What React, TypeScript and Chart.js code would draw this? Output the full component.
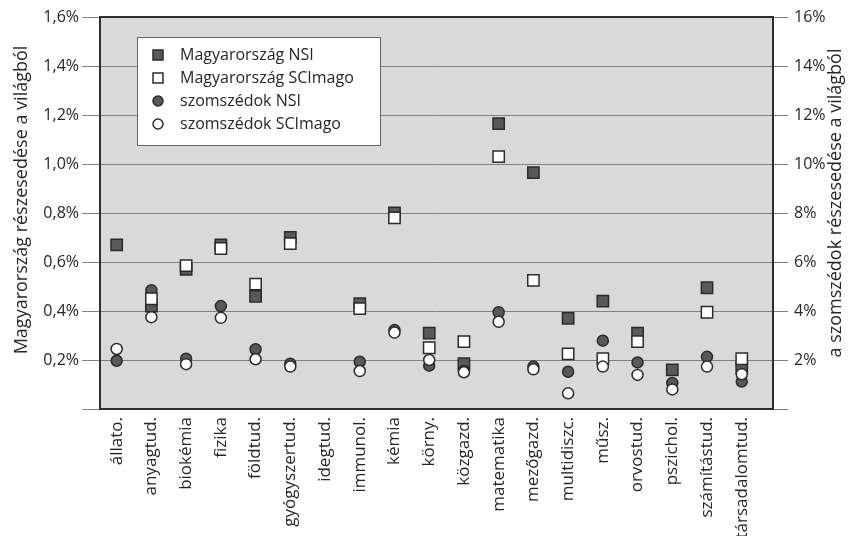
import React, { useEffect, useRef } from 'react';
import { Chart, registerables } from 'chart.js';
Chart.register(...registerables);

const categories = ['állato.', 'anyagtud.', 'biokémia', 'fizika', 'földtud.', 'gyógyszertud.', 'idegtud.', 'immunol.', 'kémia', 'körny.', 'közgazd.', 'matematika', 'mezőgazd.', 'multidiszc.', 'műsz.', 'orvostud.', 'pszichol.', 'számítástud.', 'társadalomtud.'];
// left axis (%), Hungary
const huNSI = [0.67, 0.42, 0.57, 0.67, 0.46, 0.70, null, 0.43, 0.80, 0.31, 0.185, 1.165, 0.965, 0.37, 0.44, 0.31, 0.16, 0.495, 0.168];
const huSCImago = [null, 0.45, 0.585, 0.655, 0.51, 0.675, null, 0.41, 0.78, 0.25, 0.275, 1.03, 0.525, 0.225, 0.205, 0.275, null, 0.395, 0.205];
// right axis (%), neighbours
const nbNSI = [1.97, 4.85, 2.05, 4.2, 2.44, 1.85, null, 1.93, 3.22, 1.77, 1.55, 3.95, 1.73, 1.52, 2.79, 1.9, 1.06, 2.13, 1.12];
const nbSCImago = [2.45, 3.75, 1.83, 3.72, 2.03, 1.73, null, 1.55, 3.12, 2.0, 1.5, 3.56, 1.62, 0.64, 1.73, 1.39, 0.8, 1.73, 1.42];
const seriesNames = ['Magyarország NSI', 'Magyarország SCImago', 'szomszédok NSI', 'szomszédok SCImago'];
const leftTitle = 'Magyarország részesedése a világból';
const rightTitle = 'a szomszédok részesedése a világból';

const FONT = "'Open Sans', sans-serif";
const TEXT = '#262626';
const DARK = '#595959';
const EDGE = '#2b2b2b';

function toPoints(arr: (number | null)[]) {
  return arr
    .map((v, i) => (v == null ? null : { x: i, y: v }))
    .filter((p) => p !== null) as { x: number; y: number }[];
}

export default function App() {
  const ref = useRef<HTMLCanvasElement>(null);
  useEffect(() => {
    document.body.style.margin = '0';
    const canvas = ref.current!;
    const styles = [
      { style: 'rect', bg: DARK, radius: 8 },
      { style: 'rect', bg: '#ffffff', radius: 8 },
      { style: 'circle', bg: DARK, radius: 5.5 },
      { style: 'circle', bg: '#ffffff', radius: 5.5 },
    ];
    const plugin = {
      id: 'decor',
      beforeDraw(chart: any) {
        const { ctx, chartArea: a } = chart;
        ctx.save();
        ctx.fillStyle = '#ffffff';
        ctx.fillRect(0, 0, chart.width, chart.height);
        ctx.fillStyle = '#d9d9d9';
        ctx.fillRect(a.left, a.top, a.right - a.left, a.bottom - a.top);
        ctx.restore();
      },
      afterDraw(chart: any) {
        const { ctx, chartArea: a } = chart;
        ctx.save();
        ctx.strokeStyle = '#2e2e2e';
        ctx.lineWidth = 2;
        ctx.strokeRect(a.left, a.top, a.right - a.left, a.bottom - a.top);
        // axis titles
        ctx.fillStyle = TEXT;
        ctx.font = `18px ${FONT}`;
        ctx.textAlign = 'center';
        ctx.textBaseline = 'middle';
        ctx.save();
        ctx.translate(22, 200);
        ctx.rotate(-Math.PI / 2);
        ctx.fillText(leftTitle, 0, 0);
        ctx.restore();
        ctx.save();
        ctx.translate(836, 203);
        ctx.rotate(-Math.PI / 2);
        ctx.fillText(rightTitle, 0, 0);
        ctx.restore();
        // legend
        const bx = 137, by = 37, bw = 243, bh = 108;
        ctx.fillStyle = '#ffffff';
        ctx.fillRect(bx, by, bw, bh);
        ctx.strokeStyle = '#666666';
        ctx.lineWidth = 1;
        ctx.strokeRect(bx + 0.5, by + 0.5, bw, bh);
        ctx.font = `16px ${FONT}`;
        ctx.textAlign = 'left';
        seriesNames.forEach((name, i) => {
          const cy = 55 + i * 23;
          const cx = 158;
          const s = styles[i];
          ctx.fillStyle = s.bg;
          ctx.strokeStyle = EDGE;
          ctx.lineWidth = 1.5;
          ctx.beginPath();
          if (s.style === 'rect') {
            ctx.rect(cx - 5, cy - 5, 10, 10);
          } else {
            ctx.arc(cx, cy, 5, 0, Math.PI * 2);
          }
          ctx.fill();
          ctx.stroke();
          ctx.fillStyle = TEXT;
          ctx.fillText(name, 180, cy);
        });
        ctx.restore();
      },
    };
    const mk = (label: string, data: any, i: number, axis: string, order: number) => ({
      label,
      data,
      yAxisID: axis,
      pointStyle: styles[i].style,
      pointRadius: styles[i].radius,
      pointHoverRadius: styles[i].radius,
      backgroundColor: styles[i].bg,
      borderColor: EDGE,
      borderWidth: 1.5,
      order,
    });
    const chart = new Chart(canvas, {
      type: 'scatter',
      data: {
        datasets: [
          mk(seriesNames[0], toPoints(huNSI), 0, 'y', 3),
          mk(seriesNames[1], toPoints(huSCImago), 1, 'y', 1),
          mk(seriesNames[2], toPoints(nbNSI), 2, 'y2', 2),
          mk(seriesNames[3], toPoints(nbSCImago), 3, 'y2', 0),
        ] as any,
      },
      options: {
        animation: false,
        responsive: false,
        layout: { padding: { top: 17, left: 0, right: 0, bottom: 0 } },
        plugins: { legend: { display: false }, tooltip: { enabled: false } },
        scales: {
          x: {
            type: 'linear',
            min: -0.48,
            max: 18.9,
            afterBuildTicks: (s: any) => {
              s.ticks = categories.map((_, i) => ({ value: i }));
            },
            afterFit: (s: any) => {
              s.height = 127;
            },
            grid: { display: false, drawTicks: false },
            border: { display: false },
            ticks: {
              autoSkip: false,
              minRotation: 90,
              maxRotation: 90,
              padding: 8,
              color: TEXT,
              font: { family: FONT, size: 17 },
              callback: (v: any) => categories[v as number] ?? '',
            },
          },
          y: {
            position: 'left',
            min: 0,
            max: 1.6,
            afterFit: (s: any) => {
              s.width = 100;
            },
            grid: { color: '#808080', lineWidth: 1, tickLength: 18, drawTicks: true },
            border: { display: false },
            ticks: {
              stepSize: 0.2,
              padding: 3,
              color: TEXT,
              font: { family: FONT, size: 16 },
              callback: (v: any) => (Math.abs(v) < 1e-9 ? '' : (v as number).toFixed(1).replace('.', ',') + '%'),
            },
          },
          y2: {
            position: 'right',
            min: 0,
            max: 16,
            afterFit: (s: any) => {
              s.width = 75;
            },
            grid: { color: '#808080', lineWidth: 1, tickLength: 15, drawOnChartArea: false },
            border: { display: false },
            ticks: {
              stepSize: 2,
              padding: 6,
              color: TEXT,
              font: { family: FONT, size: 16 },
              callback: (v: any) => (Math.abs(v) < 1e-9 ? '' : Math.round(v as number) + '%'),
            },
          },
        },
      } as any,
      plugins: [plugin],
    });
    return () => chart.destroy();
  }, []);
  return <canvas ref={ref} width={848} height={536} style={{ display: 'block' }} />;
}
